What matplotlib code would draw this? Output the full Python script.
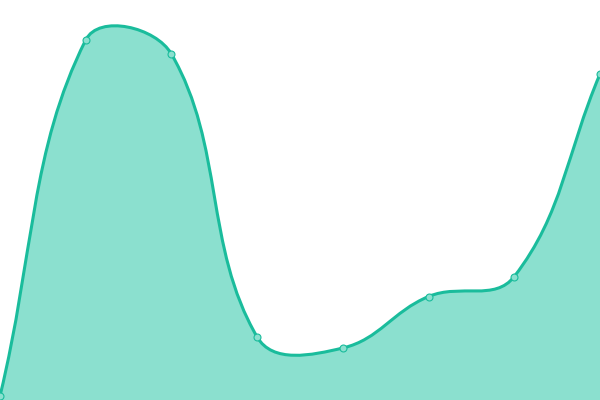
import numpy as np
import matplotlib.pyplot as plt
from matplotlib.path import Path
from matplotlib.patches import PathPatch

# data (chart units, 0 = bottom of the plot, 400 = top)
labels = ["A", "B", "C", "D", "E", "F", "G", "H"]
values = [4, 360, 346, 63, 52, 103.5, 123.5, 326]

line_color = "#1abc9c"
fill_color = "#8be0cf"
tension = 0.4


def control_points(xs, ys, t):
    # cardinal spline control points, same idea as chart.js splineCurve
    n = len(xs)
    c_prev = []
    c_next = []
    for i in range(n):
        p0 = np.array([xs[max(i - 1, 0)], ys[max(i - 1, 0)]])
        p1 = np.array([xs[i], ys[i]])
        p2 = np.array([xs[min(i + 1, n - 1)], ys[min(i + 1, n - 1)]])
        d01 = np.hypot(*(p1 - p0))
        d12 = np.hypot(*(p2 - p1))
        tot = d01 + d12
        s01 = d01 / tot if tot else 0
        s12 = d12 / tot if tot else 0
        c_prev.append(p1 - t * s01 * (p2 - p0))
        c_next.append(p1 + t * s12 * (p2 - p0))
    return c_prev, c_next


fig = plt.figure(figsize=(6, 4), dpi=100)
ax = fig.add_axes([0, 0, 1, 1])
ax.set_xlim(0, 600)
ax.set_ylim(0, 400)
ax.axis("off")

xs = np.linspace(0, 600, len(values))
ys = np.array(values, dtype=float)
c_prev, c_next = control_points(xs, ys, tension)

verts = [(xs[0], ys[0])]
codes = [Path.MOVETO]
for i in range(len(xs) - 1):
    verts += [tuple(c_next[i]), tuple(c_prev[i + 1]), (xs[i + 1], ys[i + 1])]
    codes += [Path.CURVE4] * 3

line_path = Path(verts, codes)
fill_path = Path(verts + [(xs[-1], 0), (xs[0], 0), (xs[0], ys[0])],
                 codes + [Path.LINETO, Path.LINETO, Path.CLOSEPOLY])

ax.add_patch(PathPatch(fill_path, facecolor=fill_color, edgecolor="none", zorder=1))
ax.add_patch(PathPatch(line_path, facecolor="none", edgecolor=line_color,
                       lw=2.2, zorder=2, clip_on=False))
ax.plot(xs, ys, linestyle="", marker="o", markersize=5,
        markerfacecolor=fill_color, markeredgecolor=line_color,
        markeredgewidth=0.8, zorder=3, clip_on=True)

plt.savefig("out.png", dpi=100)
